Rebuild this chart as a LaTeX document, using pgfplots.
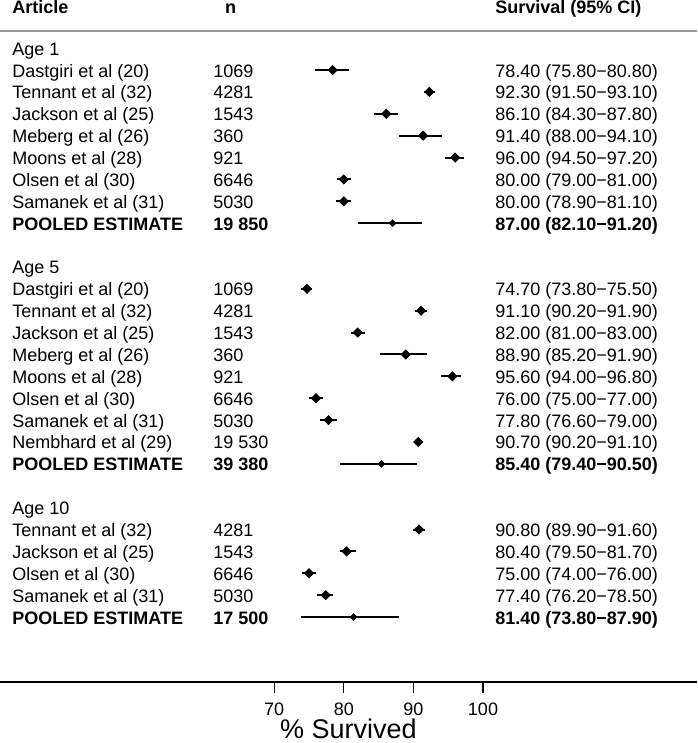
\documentclass[border=0pt]{standalone}
\usepackage{pgfplots}
\pgfplotsset{compat=1.18}
\usepackage{pgfplotstable}
\usepackage{fontspec}
\setmainfont{Liberation Sans}

\pgfplotstableread{
y est lo hi
-1 78.4 75.8 80.8
-2 92.3 91.5 93.1
-3 86.1 84.3 87.8
-4 91.4 88.0 94.1
-5 96.0 94.5 97.2
-6 80.0 79.0 81.0
-7 80.0 78.9 81.1
-11 74.7 73.8 75.5
-12 91.1 90.2 91.9
-13 82.0 81.0 83.0
-14 88.9 85.2 91.9
-15 95.6 94.0 96.8
-16 76.0 75.0 77.0
-17 77.8 76.6 79.0
-18 90.7 90.2 91.1
-22 90.8 89.9 91.6
-23 80.4 79.5 81.7
-24 75.0 74.0 76.0
-25 77.4 76.2 78.5
}\studies

\pgfplotstableread{
y est lo hi
-8 87.0 82.1 91.2
-19 85.4 79.4 90.5
-26 81.4 73.8 87.9
}\pooled

\newcommand{\rowtxt}[4]{%
  \node[anchor=base west, yshift=-3.5pt, inner sep=0pt] at (axis cs:32.32,#1) {#2};
  \node[anchor=base west, yshift=-3.5pt, inner sep=0pt] at (axis cs:61.2,#1) {#3};
  \node[anchor=base west, yshift=-3.5pt, inner sep=0pt] at (axis cs:101.72,#1) {#4};
}

\begin{document}
\begin{tikzpicture}[font=\fontsize{9}{11}\selectfont]
\useasboundingbox (0,0) rectangle (348.5pt,-371.5pt);
\begin{axis}[
  at={(0,0)}, anchor=north west,
  width=348.5pt, height=341pt, scale only axis,
  xmin=30.6, xmax=130.75,
  ymin=-28.97, ymax=2.2007,
  axis x line*=bottom,
  axis y line=none,
  axis line style={black, line width=0.65pt},
  xtick={70,80,90,100},
  xticklabels={70,80,90,100},
  tick align=outside,
  major tick length=5.5pt,
  every tick/.style={black, line width=0.55pt},
  xticklabel style={anchor=base, yshift=-11pt, inner sep=0pt, font=\fontsize{9}{11}\selectfont},
  /pgf/number format/assume math mode=true,
  ytick=\empty,
  xlabel={\% Survived},
  xlabel style={at={(axis description cs:0.5,0)}, anchor=base, yshift=-28pt, inner sep=0pt, font=\fontsize{13.5}{16}\selectfont},
  clip=false,
]
\addplot[black, only marks, mark=square*, mark size=1.6pt, mark options={rotate=45, fill=black},
  error bars/.cd, x dir=both, x explicit, error mark=none,
  error bar style={line width=1pt, black}]
  table[x=est, y=y, x error plus expr=\thisrow{hi}-\thisrow{est}, x error minus expr=\thisrow{est}-\thisrow{lo}] {\studies};
\addplot[black, only marks, mark=square*, mark size=1.15pt, mark options={rotate=45, fill=black},
  error bars/.cd, x dir=both, x explicit, error mark=none,
  error bar style={line width=0.9pt, black}]
  table[x=est, y=y, x error plus expr=\thisrow{hi}-\thisrow{est}, x error minus expr=\thisrow{est}-\thisrow{lo}] {\pooled};

\draw[black!40, line width=0.75pt] (axis cs:30.6,0.783) -- (axis cs:130.75,0.783);

\node[anchor=base west, yshift=-3.5pt, inner sep=0pt] at (axis cs:32.32,1.904) {\bfseries Article};
\node[anchor=base, yshift=-3.5pt, inner sep=0pt] at (axis cs:63.72,1.904) {\bfseries n};
\node[anchor=base west, yshift=-3.5pt, inner sep=0pt] at (axis cs:101.72,1.904) {\bfseries Survival (95\% CI)};

\rowtxt{0}{Age 1}{}{}
\rowtxt{-1}{Dastgiri et al (20)}{1069}{78.40 (75.80−80.80)}
\rowtxt{-2}{Tennant et al (32)}{4281}{92.30 (91.50−93.10)}
\rowtxt{-3}{Jackson et al (25)}{1543}{86.10 (84.30−87.80)}
\rowtxt{-4}{Meberg et al (26)}{360}{91.40 (88.00−94.10)}
\rowtxt{-5}{Moons et al (28)}{921}{96.00 (94.50−97.20)}
\rowtxt{-6}{Olsen et al (30)}{6646}{80.00 (79.00−81.00)}
\rowtxt{-7}{Samanek et al (31)}{5030}{80.00 (78.90−81.10)}
\rowtxt{-8}{\bfseries POOLED ESTIMATE}{\bfseries 19 850}{\bfseries 87.00 (82.10−91.20)}

\rowtxt{-10}{Age 5}{}{}
\rowtxt{-11}{Dastgiri et al (20)}{1069}{74.70 (73.80−75.50)}
\rowtxt{-12}{Tennant et al (32)}{4281}{91.10 (90.20−91.90)}
\rowtxt{-13}{Jackson et al (25)}{1543}{82.00 (81.00−83.00)}
\rowtxt{-14}{Meberg et al (26)}{360}{88.90 (85.20−91.90)}
\rowtxt{-15}{Moons et al (28)}{921}{95.60 (94.00−96.80)}
\rowtxt{-16}{Olsen et al (30)}{6646}{76.00 (75.00−77.00)}
\rowtxt{-17}{Samanek et al (31)}{5030}{77.80 (76.60−79.00)}
\rowtxt{-18}{Nembhard et al (29)}{19 530}{90.70 (90.20−91.10)}
\rowtxt{-19}{\bfseries POOLED ESTIMATE}{\bfseries 39 380}{\bfseries 85.40 (79.40−90.50)}

\rowtxt{-21}{Age 10}{}{}
\rowtxt{-22}{Tennant et al (32)}{4281}{90.80 (89.90−91.60)}
\rowtxt{-23}{Jackson et al (25)}{1543}{80.40 (79.50−81.70)}
\rowtxt{-24}{Olsen et al (30)}{6646}{75.00 (74.00−76.00)}
\rowtxt{-25}{Samanek et al (31)}{5030}{77.40 (76.20−78.50)}
\rowtxt{-26}{\bfseries POOLED ESTIMATE}{\bfseries 17 500}{\bfseries 81.40 (73.80−87.90)}
\end{axis}
\end{tikzpicture}
\end{document}
